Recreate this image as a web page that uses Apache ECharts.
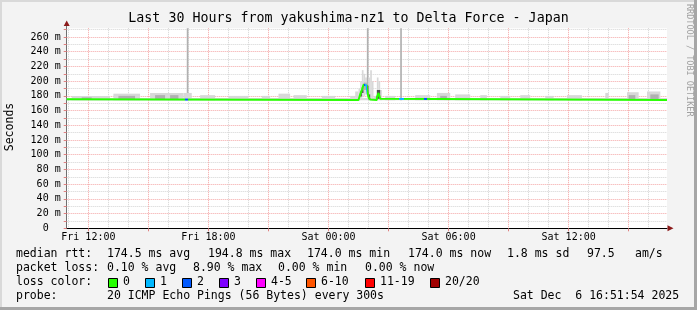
<!DOCTYPE html>
<html><head><meta charset="utf-8">
<script src="https://cdn.jsdelivr.net/npm/echarts@6/dist/echarts.min.js"></script>
<style>html,body{margin:0;padding:0;background:#f3f3f3}#c{width:697px;height:310px}</style>
</head><body><div id="c"></div>
<script>
// ---- time slots (5-minute samples, Fri 10:55 .. Sat 16:55) ----
const START_MIN = 655, STEP_MIN = 5, N_SLOTS = 361;
const categories = [];
for (let i = 0; i < N_SLOTS; i++) {
  const m = START_MIN + i * STEP_MIN, d = m >= 1440 ? 'Sat' : 'Fri', mm = m % 1440;
  categories.push(d + ' ' + String(Math.floor(mm / 60)).padStart(2, '0') + ':' + String(mm % 60).padStart(2, '0'));
}
// labelled hours on the time axis
const labelHours = ['Fri 12:00', 'Fri 18:00', 'Sat 00:00', 'Sat 06:00', 'Sat 12:00'];

// median rtt (ms) at change points
const median = [
  ['Fri 10:55', 175.5], ['Fri 11:05', 174.5],
  ['Sat 01:30', 175], ['Sat 01:35', 182], ['Sat 01:40', 188], ['Sat 01:45', 195], ['Sat 01:50', 194],
  ['Sat 01:55', 190], ['Sat 02:00', 178], ['Sat 02:05', 175], ['Sat 02:10', 174.5],
  ['Sat 02:25', 178], ['Sat 02:30', 184], ['Sat 02:35', 176], ['Sat 02:40', 174.5],
  ['Sat 16:55', 174.5]
];
// packet loss periods: [from, to, loss class]
const lossPeriods = [
  ['Fri 16:50', 'Fri 17:00', 2],
  ['Sat 01:45', 'Sat 01:50', 2],
  ['Sat 01:50', 'Sat 01:55', 1],
  ['Sat 03:30', 'Sat 03:45', 1],
  ['Sat 04:45', 'Sat 04:55', 2]
];
// smoke (spread of the 20 pings): [from, to, low ms, high ms, shade 0..2]
const smoke = [
  ['Fri 10:55', 'Sat 16:55', 174, 177, 0],
  ['Fri 11:10', 'Fri 13:05', 174, 180, 0], ['Fri 11:40', 'Fri 12:10', 175, 178, 1],
  ['Fri 13:15', 'Fri 14:35', 174, 183, 0], ['Fri 13:30', 'Fri 14:20', 175, 180, 1],
  ['Fri 15:05', 'Fri 16:45', 174, 184, 0], ['Fri 15:20', 'Fri 15:50', 175, 181, 1], ['Fri 16:05', 'Fri 16:30', 175, 181, 1],
  ['Fri 16:45', 'Fri 17:10', 174, 184, 0], ['Fri 16:55', 'Fri 17:00', 184, 272, 1],
  ['Fri 17:35', 'Fri 18:20', 174, 181, 0], ['Fri 19:00', 'Fri 20:00', 174, 180, 0],
  ['Fri 20:40', 'Fri 21:05', 174, 180, 0], ['Fri 21:30', 'Fri 22:05', 174, 183, 0],
  ['Fri 22:15', 'Fri 22:55', 174, 181, 0], ['Fri 23:40', 'Sat 00:20', 174, 180, 0],
  ['Sat 01:05', 'Sat 01:20', 174, 180, 0],
  ['Sat 01:20', 'Sat 01:30', 174, 186, 0], ['Sat 01:30', 'Sat 01:35', 174, 190, 0],
  ['Sat 01:35', 'Sat 01:40', 176, 200, 0], ['Sat 01:40', 'Sat 01:45', 178, 215, 0],
  ['Sat 01:45', 'Sat 01:50', 180, 210, 0], ['Sat 01:50', 'Sat 01:55', 182, 205, 0],
  ['Sat 01:55', 'Sat 02:00', 180, 272, 1], ['Sat 02:00', 'Sat 02:05', 176, 205, 0],
  ['Sat 02:05', 'Sat 02:10', 175, 215, 0], ['Sat 02:10', 'Sat 02:15', 174, 200, 0],
  ['Sat 02:15', 'Sat 02:25', 174, 180, 0], ['Sat 02:25', 'Sat 02:30', 175, 205, 0],
  ['Sat 02:30', 'Sat 02:35', 176, 200, 0], ['Sat 02:35', 'Sat 02:40', 174, 188, 0],
  ['Sat 01:35', 'Sat 01:40', 179, 186, 2], ['Sat 01:40', 'Sat 01:45', 184, 192, 2],
  ['Sat 01:45', 'Sat 01:55', 188, 198, 1], ['Sat 01:55', 'Sat 02:00', 182, 194, 2],
  ['Sat 02:00', 'Sat 02:05', 175, 182, 2], ['Sat 02:25', 'Sat 02:35', 176, 188, 2],
  ['Sat 02:50', 'Sat 03:20', 174, 180, 0], ['Sat 03:35', 'Sat 03:40', 174, 272, 1],
  ['Sat 04:20', 'Sat 05:05', 174, 181, 0], ['Sat 05:25', 'Sat 06:05', 174, 184, 0], ['Sat 05:35', 'Sat 05:55', 175, 180, 1],
  ['Sat 06:20', 'Sat 07:05', 174, 182, 0], ['Sat 07:35', 'Sat 07:55', 174, 181, 0],
  ['Sat 08:35', 'Sat 09:05', 174, 180, 0], ['Sat 09:35', 'Sat 10:05', 174, 181, 0],
  ['Sat 10:50', 'Sat 11:15', 174, 180, 0], ['Sat 11:55', 'Sat 12:40', 174, 181, 0],
  ['Sat 13:50', 'Sat 14:00', 174, 184, 0],
  ['Sat 14:55', 'Sat 15:30', 174, 185, 0], ['Sat 15:00', 'Sat 15:20', 175, 181, 1],
  ['Sat 15:55', 'Sat 16:35', 174, 186, 0], ['Sat 16:05', 'Sat 16:30', 175, 182, 1]
];
const lossColors = ['#26ff00', '#00b8ff', '#0059ff', '#7e00ff', '#ff00ff', '#ff5500', '#ff0000', '#a00000'];
const lossLabels = ['0', '1', '2', '3', '4-5', '6-10', '11-19', '20/20'];
const smokeShades = ['#d8d8d8', '#b0b0b0', '#505050'];

const idx = t => categories.indexOf(t);
const MONO = '"DejaVu Sans Mono", monospace';
const chart = echarts.init(document.getElementById('c'), null, { renderer: 'canvas' });

const graphics = [];
// frame
graphics.push({ type: 'rect', shape: { x: 0, y: 0, width: 697, height: 2 }, style: { fill: '#d9d9d9' }, silent: true });
graphics.push({ type: 'rect', shape: { x: 0, y: 0, width: 2, height: 310 }, style: { fill: '#d9d9d9' }, silent: true });
graphics.push({ type: 'rect', shape: { x: 694, y: 0, width: 3, height: 310 }, style: { fill: '#a6a6a6' }, silent: true });
graphics.push({ type: 'rect', shape: { x: 0, y: 307, width: 697, height: 3 }, style: { fill: '#a6a6a6' }, silent: true });
// axis arrows
graphics.push({ type: 'polygon', z: 10, shape: { points: [[66.7, 20.5], [63.7, 26], [69.7, 26]] }, style: { fill: '#8b1a1a' } });
graphics.push({ type: 'polygon', z: 10, shape: { points: [[673.5, 228.3], [667.5, 225.3], [667.5, 231.3]] }, style: { fill: '#8b1a1a' } });
graphics.push({ type: 'line', z: 9, shape: { x1: 66.5, y1: 25, x2: 66.5, y2: 29 }, style: { stroke: '#707070', lineWidth: 1 } });
// title
graphics.push({ type: 'text', x: 348.5, y: 19, style: { text: 'Last 30 Hours from yakushima-nz1 to Delta Force - Japan', font: '13.3px ' + MONO, fill: '#000', align: 'center', verticalAlign: 'middle' } });
// side text
graphics.push({ type: 'text', x: 689, y: 4, rotation: -Math.PI / 2, style: { text: 'RRDTOOL / TOBI OETIKER', font: '8.5px ' + MONO, fill: '#a0a0a0', align: 'left', verticalAlign: 'middle' } });
// y title
graphics.push({ type: 'text', x: 10, y: 127, rotation: Math.PI / 2, style: { text: 'Seconds', font: '11.5px ' + MONO, fill: '#000', align: 'center', verticalAlign: 'middle' } });
// legend rows
const LF = '11.5px ' + MONO;
const rows = [
  [254.3, [[16, 'median rtt:'], [107, '174.5 ms avg'], [208, '194.8 ms max'], [307, '174.0 ms min'], [408, '174.0 ms now'], [507, '1.8 ms sd'], [587, '97.5'], [635, 'am/s']]],
  [268.3, [[16, 'packet loss:'], [107, '0.10 % avg'], [193, '8.90 % max'], [278, '0.00 % min'], [365, '0.00 % now']]],
  [282.3, [[16, 'loss color:']]],
  [296, [[16, 'probe:'], [107, '20 ICMP Echo Pings (56 Bytes) every 300s'], [513, 'Sat Dec  6 16:51:54 2025']]]
];
rows.forEach(([y, items]) => items.forEach(([x, s]) => graphics.push({ type: 'text', x: x, y: y, style: { text: s, font: LF, fill: '#000', verticalAlign: 'middle' } })));
const boxX = [108, 145, 182, 219, 256, 306, 365, 430];
lossLabels.forEach((l, i) => {
  graphics.push({ type: 'rect', shape: { x: boxX[i] + 0.5, y: 278.5, width: 9, height: 9 }, style: { fill: lossColors[i], stroke: '#000', lineWidth: 1 } });
  graphics.push({ type: 'text', x: boxX[i] + 15, y: 282.3, style: { text: l, font: LF, fill: '#000', verticalAlign: 'middle' } });
});

const option = {
  backgroundColor: '#f3f3f3',
  animation: false,
  grid: { left: 66.7, right: 30, top: 28.2, bottom: 81.7, show: true, backgroundColor: '#ffffff', borderWidth: 0 },
  xAxis: {
    type: 'category', data: categories, boundaryGap: false,
    axisLine: { show: true, lineStyle: { color: '#000', width: 1 } },
    axisTick: { show: true, length: 3, inside: false, interval: (i, v) => v.endsWith(':00') && (+v.slice(4, 6)) % 3 === 0, lineStyle: { color: '#e08080' } },
    axisLabel: { interval: (i, v) => labelHours.includes(v), fontFamily: MONO, fontSize: 10, color: '#000', margin: 4 },
    splitLine: { show: true, interval: (i, v) => v.endsWith(':00'), lineStyle: { color: ['#d4d4d4', '#f4a6a6', '#d4d4d4'], type: [1, 1], width: 1 } }
  },
  yAxis: {
    type: 'value', min: 0, max: 272, interval: 10,
    axisLine: { show: true, lineStyle: { color: '#707070', width: 1 } },
    axisTick: { show: true, length: 3, lineStyle: { color: '#e08080' } },
    axisLabel: { fontFamily: MONO, fontSize: 10, color: '#000', margin: 6, showMaxLabel: false,
      formatter: v => (v % 20 !== 0 || v > 260) ? '' : (v === 0 ? '0  ' : v + ' m') },
    splitLine: { show: true, showMaxLine: false, lineStyle: { color: ['#f4a6a6', '#d4d4d4'], type: [1, 1], width: 1 } }
  },
  visualMap: {
    type: 'piecewise', show: false, dimension: 0, seriesIndex: 1,
    pieces: lossPeriods.map(([a, b, c]) => ({ gte: idx(a) - 0.01, lte: idx(b) + 0.01, color: lossColors[c] })),
    outOfRange: { color: lossColors[0] }
  },
  series: [
    {
      type: 'custom', z: 2, silent: true,
      data: smoke.map(([a, b, lo, hi, s]) => [idx(a), idx(b), lo, hi, s]),
      encode: { x: [0, 1], y: [2, 3] },
      renderItem: (params, api) => {
        const p0 = api.coord([api.value(0), api.value(3)]);
        const p1 = api.coord([api.value(1), api.value(2)]);
        return { type: 'rect', shape: { x: p0[0], y: p0[1], width: p1[0] - p0[0], height: p1[1] - p0[1] }, style: { fill: smokeShades[api.value(4)] } };
      }
    },
    {
      type: 'line', z: 3, step: 'end', symbol: 'none', silent: true,
      data: median.map(([t, v]) => [idx(t), v]),
      lineStyle: { width: 2 }
    }
  ],
  graphic: graphics
};
chart.setOption(option);
</script></body></html>
